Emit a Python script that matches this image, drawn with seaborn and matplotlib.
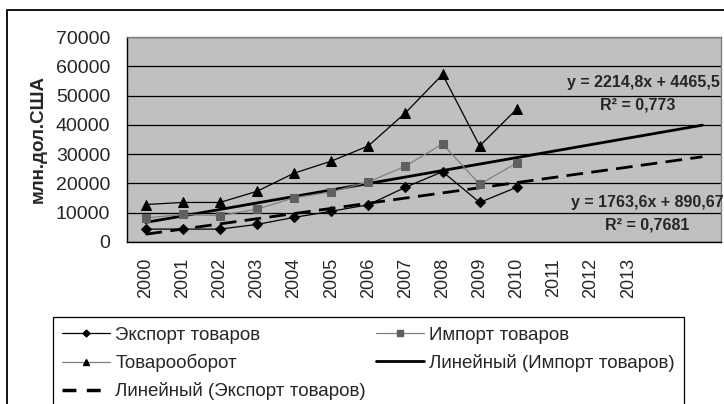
import numpy as np
import pandas as pd
import matplotlib
matplotlib.use("Agg")
import matplotlib.pyplot as plt
from matplotlib.lines import Line2D
from matplotlib.patches import Rectangle
import seaborn as sns

# ---- data ----
year_labels = ["2000", "2001", "2002", "2003", "2004", "2005", "2006",
               "2007", "2008", "2009", "2010", "2011", "2012", "2013", "", ""]
data_years = ["2000", "2001", "2002", "2003", "2004", "2005", "2006",
              "2007", "2008", "2009", "2010"]
export_vals = [4400, 4400, 4400, 6000, 8400, 10500, 12700, 18700, 24000, 13500, 18700]
import_vals = [8200, 9400, 9000, 11200, 15100, 17100, 20500, 25900, 33500, 19700, 27000]
total_vals = [12800, 13500, 13500, 17300, 23500, 27600, 32800, 44100, 57200, 32800, 45400]

# trend-line coefficients as printed on the chart
imp_slope, imp_intercept, imp_r2 = 2214.8, 4465.5, "0,773"
exp_slope, exp_intercept, exp_r2 = 1763.6, 890.67, "0,7681"

labels = ["Экспорт товаров", "Импорт товаров", "Товарооборот",
          "Линейный (Импорт товаров)", "Линейный (Экспорт товаров)"]
ylabel = "млн.дол.США"

sns.set_style("white")
plt.rcParams["font.family"] = ["Liberation Sans", "DejaVu Sans"]

W, H = 724, 404
fig = plt.figure(figsize=(W / 100, H / 100), dpi=100)

def fx(px):
    return px / W

def fy(py):
    return 1 - py / H

L, R, T, B = 127, 721, 37, 242
ax = fig.add_axes([fx(L), fy(B), fx(R - L), (B - T) / H])
ax.set_facecolor("#C0C0C0")

x_data = np.arange(1, len(data_years) + 1)
df = pd.DataFrame({"x": x_data, "exp": export_vals, "imp": import_vals, "tot": total_vals})

sns.lineplot(data=df, x="x", y="exp", ax=ax, color="black", lw=0.9,
             marker="D", markersize=5, markerfacecolor="black",
             markeredgecolor="black", zorder=5)
sns.lineplot(data=df, x="x", y="imp", ax=ax, color="#808080", lw=0.9,
             marker="s", markersize=5.5, markerfacecolor="#606060",
             markeredgecolor="#606060", zorder=5)
sns.lineplot(data=df, x="x", y="tot", ax=ax, color="black", lw=0.9,
             marker="^", markersize=6.5, markerfacecolor="black",
             markeredgecolor="black", zorder=5)

# trend lines over the full category range
x_tr = np.arange(1, len(year_labels) + 1)
tr = pd.DataFrame({"x": x_tr,
                   "imp": imp_slope * x_tr + imp_intercept,
                   "exp": exp_slope * x_tr + exp_intercept})
sns.lineplot(data=tr, x="x", y="imp", ax=ax, color="black", lw=2.0, zorder=4)
sns.lineplot(data=tr, x="x", y="exp", ax=ax, color="black", lw=2.0,
             dashes=False, zorder=4)
ax.lines[-1].set_dashes((6, 3))

ax.set_xlim(0.5, len(year_labels) + 0.5)
ax.set_ylim(0, 70000)
ax.set_xlabel("")
ax.set_ylabel("")

# y axis
ax.set_yticks(np.arange(0, 70001, 10000))
ax.set_yticklabels([str(v) for v in range(0, 70001, 10000)], fontsize=14)
ax.yaxis.grid(True, color="black", lw=0.9)
ax.set_axisbelow(True)
ax.tick_params(axis="y", direction="out", length=5, width=0.9, pad=7, color="black")

# x axis: ticks at category boundaries, labels at centres
ax.set_xticks(np.arange(0.5, len(year_labels) + 1, 1.0))
ax.set_xticklabels([])
ax.set_xticks(x_tr, minor=True)
ax.set_xticklabels(year_labels, minor=True, rotation=90, fontsize=13)
ax.tick_params(axis="x", which="major", direction="out", length=6, width=0.9, color="black")
ax.tick_params(axis="x", which="minor", length=0, pad=11.5)
for lab in ax.get_xticklabels(minor=True):
    lab.set_va("top")

for s in ["top", "right"]:
    ax.spines[s].set_color("#808080")
    ax.spines[s].set_linewidth(1.0)
for s in ["left", "bottom"]:
    ax.spines[s].set_color("black")
    ax.spines[s].set_linewidth(1.0)

# y label
fig.text(fx(38), fy(139), ylabel, rotation=90, ha="center", va="center",
         fontsize=13.5, fontweight="bold")

# equations
fig.text(fx(643), fy(82), f"y = {str(imp_slope).replace('.', ',')}x + {str(imp_intercept).replace('.', ',')}",
         ha="center", va="center", fontsize=11.5, fontweight="bold")
fig.text(fx(638), fy(105), f"R² = {imp_r2}", ha="center", va="center",
         fontsize=11.5, fontweight="bold")
fig.text(fx(647), fy(202), f"y = {str(exp_slope).replace('.', ',')}x + {str(exp_intercept).replace('.', ',')}",
         ha="center", va="center", fontsize=11.5, fontweight="bold")
fig.text(fx(647), fy(225), f"R² = {exp_r2}", ha="center", va="center",
         fontsize=11.5, fontweight="bold")

# outer chart border (extends past the image on right and bottom)
fig.patches.append(Rectangle((fx(7), -0.1), 1.2, fy(10) + 0.1, transform=fig.transFigure,
                             fill=False, edgecolor="black", lw=1.3, zorder=0))

# legend (row-major order via column ordering)
h_exp = Line2D([], [], color="black", lw=0.9, marker="D", markersize=3.5,
               markerfacecolor="black", markeredgecolor="black")
h_imp = Line2D([], [], color="#808080", lw=0.9, marker="s", markersize=4,
               markerfacecolor="#606060", markeredgecolor="#606060")
h_tot = Line2D([], [], color="#808080", lw=0.9, marker="^", markersize=4.5,
               markerfacecolor="black", markeredgecolor="black")
h_limp = Line2D([], [], color="black", lw=2.0)
h_lexp = Line2D([], [], color="black", lw=2.5, dashes=(4, 3))
leg = fig.legend([h_exp, h_tot, h_lexp, h_imp, h_limp],
                 [labels[0], labels[2], labels[4], labels[1], labels[3]],
                 ncol=2, loc="upper left", bbox_to_anchor=(fx(53), fy(317)),
                 bbox_transform=fig.transFigure, fontsize=13.5, frameon=True,
                 fancybox=False, edgecolor="black", framealpha=1,
                 handlelength=2.56, handletextpad=0.27, columnspacing=0.53,
                 labelspacing=0.55, borderpad=0.5, borderaxespad=0)
leg.get_frame().set_linewidth(0.9)

fig.savefig("out.png", dpi=100, facecolor="white")
